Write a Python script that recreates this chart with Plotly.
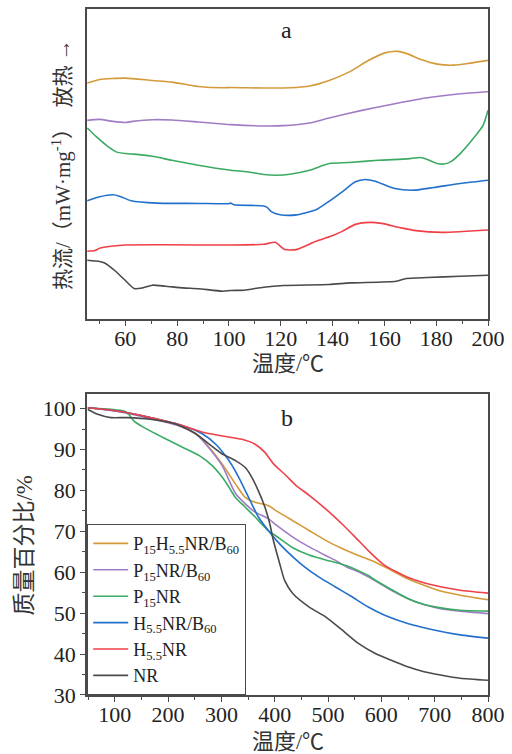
import plotly.graph_objects as go
from plotly.subplots import make_subplots

# ---------------- Panel a : DSC (arbitrary heat-flow units) ----------------
dsc_T_p15h55b60 = [45.3, 50.1, 60, 70.4, 78.0, 88.1, 98.2, 100.7, 113.4, 126.0, 131.1, 138.7, 146.3, 153.8, 160.2, 165.2, 169.0, 174.1, 180.4, 186.7, 193.0, 200]
dsc_q_p15h55b60 = [236.7, 240.3, 241.7, 239.3, 237.7, 233.3, 232.0, 232.3, 231.7, 232.3, 233.7, 239.3, 247.7, 259.3, 267.0, 268.5, 266.0, 260.3, 255.7, 254.7, 256.7, 259.5]

dsc_T_p15b60 = [45.3, 50.1, 55.2, 60, 62.8, 70.4, 78.0, 88.1, 100.7, 113.4, 121.0, 131.1, 138.7, 151.3, 164.0, 176.6, 189.3, 200]
dsc_q_p15b60 = [199.3, 200.3, 198.3, 197.2, 198.3, 200.0, 199.7, 197.7, 195.0, 193.7, 194.0, 196.7, 201.7, 209.3, 216.0, 222.0, 226.0, 228.0]

dsc_T_p15 = [45.3, 48.9, 52.7, 56.5, 60, 65.3, 70.4, 78, 88.1, 100.7, 107, 113.4, 118.4, 123.5, 131.1, 138.7, 146.3, 157.6, 169, 174.1, 176.6, 180.4, 182.9, 185.5, 189.3, 194.3, 198.1, 200]
dsc_q_p15 = [191.7, 182.7, 174.3, 167.7, 166, 165, 163.3, 159.3, 154.3, 149.3, 147.7, 145, 144.3, 145.3, 149.3, 156, 157, 159.3, 160.7, 162.0, 160, 156, 155.5, 157.7, 166, 181, 194.3, 209.5]

dsc_T_h55b60 = [45.3, 50.1, 55.2, 57.7, 62.2, 72.3, 88.1, 99.5, 100.7, 102, 113.4, 114.6, 116.5, 119.7, 122.9, 126, 133.6, 138, 143.7, 148.8, 152.6, 156.4, 164, 171.5, 179.1, 189.3, 200]
dsc_q_h55b60 = [118.7, 122.7, 124.7, 123.3, 118.7, 116.3, 116.0, 115.7, 116.3, 114.7, 113.5, 112.3, 107.5, 104.6, 104.0, 104.5, 109.7, 117, 127.7, 137.7, 140, 138.3, 131, 129.3, 132, 136, 139.3]

dsc_T_h55 = [45.3, 48.2, 50.1, 54.6, 60, 75.4, 100.7, 113.4, 117.8, 121.6, 126, 133.6, 139.3, 143.7, 148.8, 154.5, 158.9, 166.5, 172.2, 182.3, 190, 200]
dsc_q_h55 = [68, 68.7, 71, 73, 74.3, 74.5, 74.3, 75.0, 77, 69.7, 69.7, 78, 83, 88, 95.0, 97, 96.0, 91.5, 88.7, 87, 87.8, 89.3]

dsc_T_nr = [45.3, 50.1, 52.0, 56.0, 59.6, 63.4, 66.6, 70.4, 75.4, 82.4, 88.1, 97.6, 100.7, 105.8, 113.4, 121, 138.7, 146.9, 164.6, 168.4, 176.6, 189.3, 200]
dsc_q_nr = [59.0, 57.7, 56.3, 48.5, 39.7, 30.7, 31.3, 34.0, 33.0, 31.3, 30.5, 28.0, 28.7, 29.0, 32.0, 33.7, 34.7, 36.3, 38.0, 40.7, 41.7, 43.0, 44.0]

# ---------------- Panel b : TGA (mass %) ----------------
tga_T_p15h55b60 = [49.6, 104.9, 166.4, 215.6, 252.5, 277.2, 301.7, 326.3, 344.8, 363.2, 387.9, 403.2, 433.9, 464.7, 495.5, 526.3, 557.0, 587.8, 618.6, 649.3, 680.1, 710.9, 747.8, 800]
tga_m_p15h55b60 = [100.2, 99.4, 97.8, 96.2, 93.8, 90.5, 86.4, 81.6, 78.3, 77.1, 76.3, 75.0, 72.6, 70.2, 67.8, 65.8, 64.1, 62.5, 60.5, 58.4, 56.8, 55.4, 54.4, 53.3]

tga_T_p15b60 = [49.6, 104.9, 166.4, 215.6, 252.5, 277.2, 301.7, 326.3, 344.8, 363.2, 387.9, 403.2, 433.9, 464.7, 495.5, 514, 535, 557, 587.8, 618.6, 649.3, 680.1, 710.9, 747.8, 800]
tga_m_p15b60 = [100.2, 99.3, 97.6, 96.0, 93.8, 90.3, 86.0, 79.3, 76.7, 74.7, 73.1, 71.5, 68.6, 66.2, 64.1, 62.9, 61.3, 60.1, 58.0, 55.6, 53.6, 52.1, 51.1, 50.5, 49.9]

tga_T_p15 = [49.6, 117.2, 126.4, 135.7, 154.1, 197.1, 227.9, 258.7, 283.3, 301.7, 314.1, 326.3, 344.8, 363.2, 387.9, 403.2, 433.9, 464.7, 495.5, 514, 535, 557, 575.4, 587.8, 618.6, 649.3, 680.1, 710.9, 747.8, 800]
tga_m_p15 = [100.2, 99.4, 98.6, 97.0, 95.4, 92.5, 90.5, 88.5, 86.0, 83.2, 80.8, 78.3, 75.9, 73.5, 70.2, 68.8, 66.0, 64.2, 63.0, 62.4, 61.6, 60.4, 59.2, 58.1, 55.8, 53.6, 52.1, 51.3, 50.7, 50.5]

tga_T_h55b60 = [49.6, 104.9, 166.4, 227.9, 264.8, 289.4, 314.1, 332.5, 351.0, 369.4, 387.9, 403.2, 421.6, 452.4, 483.2, 514, 544.8, 575.4, 606.2, 649.3, 698.5, 747.7, 800]
tga_m_h55b60 = [100.2, 99.4, 97.8, 95.8, 93.8, 91.3, 87.3, 83.2, 78.3, 73.5, 70.2, 67.8, 65.3, 61.7, 58.8, 56.4, 54.0, 51.5, 49.5, 47.5, 45.9, 44.7, 43.9]

tga_T_h55 = [49.6, 104.9, 166.4, 227.9, 264.8, 301.7, 338.6, 363.2, 381.7, 397.1, 421.6, 440.1, 464.7, 495.5, 526.3, 550.9, 575.4, 606.2, 649.3, 698.5, 747.7, 800]
tga_m_h55 = [100.2, 99.4, 97.8, 95.8, 94.2, 93.3, 92.5, 91.3, 89.3, 86.6, 83.6, 81.2, 78.8, 75.5, 71.8, 68.6, 65.3, 61.7, 58.8, 56.8, 55.6, 54.9]

tga_T_nr = [49.6, 68, 92.7, 123.4, 166.4, 215.6, 252.5, 277.2, 301.7, 326.3, 344.8, 357.1, 369.4, 381.7, 390.9, 397.1, 403.2, 409.4, 418.6, 433.9, 464.7, 495.5, 526.3, 557, 587.8, 618.6, 649.3, 680.1, 710.9, 747.8, 800]
tga_m_nr = [99.8, 98.6, 97.8, 97.8, 97.4, 96.2, 93.8, 91.3, 88.9, 87.3, 85.6, 83.2, 79.9, 75.9, 71.8, 68.0, 65.0, 62.1, 58.0, 54.8, 51.5, 49.1, 45.9, 42.6, 40.2, 38.5, 36.9, 35.7, 34.9, 34.1, 33.6]

names = ["P<sub>15</sub>H<sub>5.5</sub>NR/B<sub>60</sub>", "P<sub>15</sub>NR/B<sub>60</sub>", "P<sub>15</sub>NR",
         "H<sub>5.5</sub>NR/B<sub>60</sub>", "H<sub>5.5</sub>NR", "NR"]
colors = ["#D49A3A", "#A07CC5", "#3BAA63", "#2370CC", "#EF4048", "#4A4A4A"]

dsc = [(dsc_T_p15h55b60, dsc_q_p15h55b60), (dsc_T_p15b60, dsc_q_p15b60), (dsc_T_p15, dsc_q_p15),
       (dsc_T_h55b60, dsc_q_h55b60), (dsc_T_h55, dsc_q_h55), (dsc_T_nr, dsc_q_nr)]
tga = [(tga_T_p15h55b60, tga_m_p15h55b60), (tga_T_p15b60, tga_m_p15b60), (tga_T_p15, tga_m_p15),
       (tga_T_h55b60, tga_m_h55b60), (tga_T_h55, tga_m_h55), (tga_T_nr, tga_m_nr)]

SERIF = "Liberation Serif, Times New Roman, serif"
CJK = "Liberation Serif, Noto Sans CJK SC, serif"
AXC = "#4a4a4a"

fig = make_subplots(rows=2, cols=1, vertical_spacing=0.0)

for i in range(6):
    fig.add_trace(go.Scatter(x=dsc[i][0], y=dsc[i][1], mode="lines", name=names[i],
                             line=dict(color=colors[i], width=1.6, shape="spline", smoothing=0.6),
                             showlegend=False), row=1, col=1)
for i in range(6):
    fig.add_trace(go.Scatter(x=tga[i][0], y=tga[i][1], mode="lines", name=names[i],
                             line=dict(color=colors[i], width=1.6, shape="spline", smoothing=0.6),
                             showlegend=True), row=2, col=1)

H_PAPER = 688.0
W_PAPER = 408.0
top_lo = (695 - 318) / H_PAPER
bot_hi = (695 - 393) / H_PAPER

axis_common = dict(showline=True, linecolor=AXC, linewidth=1.5, mirror=True, showgrid=False,
                   zeroline=False, tickcolor=AXC, tickwidth=1.2,
                   tickfont=dict(family=SERIF, size=22, color="#222"))

fig.update_layout(
    width=512, height=754,
    margin=dict(l=87, r=17, t=7, b=59),
    paper_bgcolor="white", plot_bgcolor="white",
    xaxis=dict(domain=[0, 1], range=[45.2, 200], dtick=20, tick0=0, ticks="outside", ticklen=5,
               ticklabelstandoff=-6,
               minor=dict(ticks="outside", dtick=10, tick0=0, ticklen=3, tickcolor=AXC),
               **axis_common),
    yaxis=dict(domain=[top_lo, 1.0], range=[0, 311], showticklabels=False, ticks="",
               **axis_common),
    xaxis2=dict(domain=[0, 1], range=[48, 800], dtick=100, tick0=0, ticks="outside", ticklen=5,
                ticklabelstandoff=-6,
                minor=dict(ticks="outside", dtick=50, tick0=0, ticklen=3, tickcolor=AXC),
                **axis_common),
    yaxis2=dict(domain=[0, bot_hi], range=[30, 103.6], dtick=10, tick0=0, ticks="outside", ticklen=5,
                minor=dict(ticks="outside", dtick=5, tick0=0, ticklen=3, tickcolor=AXC),
                **axis_common),
    legend=dict(x=0.0, y=0.0, xanchor="left", yanchor="bottom", xref="paper", yref="paper",
                bgcolor="white", bordercolor=AXC, borderwidth=1.2,
                font=dict(family=SERIF, size=18, color="#222"), itemwidth=35,
                tracegroupgap=0),
    showlegend=True,
)

def ann(text, x, y, size=20, angle=0, fam=CJK, color="#333"):
    fig.add_annotation(text=text, x=x, y=y, xref="paper", yref="paper", showarrow=False,
                       xanchor="center", yanchor="middle", textangle=angle,
                       font=dict(family=fam, size=size, color=color))

ann("a", (290 - 87) / W_PAPER, (695 - 28) / H_PAPER, size=24, fam=SERIF, color="#222")
ann("b", (290 - 87) / W_PAPER, (695 - 417) / H_PAPER, size=24, fam=SERIF, color="#222")
ann("温度/℃", (291 - 87) / W_PAPER, (695 - 363) / H_PAPER, size=22)
ann("温度/℃", (291 - 87) / W_PAPER, (695 - 742) / H_PAPER, size=22)
ann("热流/（mW·mg<sup>-1</sup>）\u3000放热\u00a0→", (61 - 87) / W_PAPER, (695 - 163) / H_PAPER, size=21, angle=-90)
ann("质量百分比/%", (23 - 87) / W_PAPER, (695 - 545) / H_PAPER, size=23, angle=-90)

fig.write_html("out.html", post_script="document.body.style.margin='0px';",
               config={"displayModeBar": False})
